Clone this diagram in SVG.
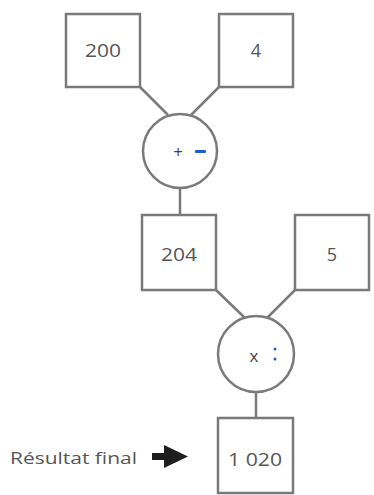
<svg xmlns="http://www.w3.org/2000/svg" width="374" height="495" viewBox="0 0 374 495">
<style>
.box{fill:#fff;stroke:#7a7a7a;stroke-width:2.5}
.op{fill:#fff;stroke:#7a7a7a;stroke-width:2.5}
.link{stroke:#7a7a7a;stroke-width:2.5;fill:none}
.t{font-family:"Open Sans","DejaVu Sans",sans-serif;font-size:18px;font-weight:500;fill:#555;text-anchor:middle}
.s{font-family:"Open Sans","DejaVu Sans",sans-serif;font-size:17px;font-weight:500;fill:#444;text-anchor:middle}
.b{fill:#1a5fd6}
.lab{font-family:"Open Sans","DejaVu Sans",sans-serif;font-size:16px;fill:#555}
</style>
<rect width="374" height="495" fill="#fff"/>
<g id="connectors">
<line class="link" x1="140" y1="87" x2="168" y2="115"/>
<line class="link" x1="219" y1="87" x2="191" y2="115"/>
<line class="link" x1="180" y1="188" x2="180" y2="215"/>
<line class="link" x1="216" y1="290" x2="245" y2="318"/>
<line class="link" x1="295" y1="290" x2="267" y2="318"/>
<line class="link" x1="256" y1="392" x2="256" y2="418"/>
</g>
<g id="n200"><rect class="box" x="66" y="14" width="74" height="73"/><text class="t" x="103" y="57" textLength="36" lengthAdjust="spacingAndGlyphs">200</text></g>
<g id="n4"><rect class="box" x="219" y="14" width="74" height="73"/><text class="t" x="256" y="57">4</text></g>
<g id="opAdd"><circle class="op" cx="180" cy="151" r="37"/><text class="s" x="178" y="158">+</text><rect class="b" x="195" y="150" width="11" height="3" rx="1"/></g>
<g id="n204"><rect class="box" x="142" y="215" width="74" height="75"/><text class="t" x="179" y="261" textLength="36" lengthAdjust="spacingAndGlyphs">204</text></g>
<g id="n5"><rect class="box" x="295" y="215" width="74" height="75"/><text class="t" x="332" y="261">5</text></g>
<g id="opMul"><circle class="op" cx="256" cy="354" r="38"/><text class="s" x="254" y="362">x</text><circle class="b" cx="275" cy="349" r="1.5"/><circle class="b" cx="275" cy="359" r="1.5"/></g>
<g id="n1020"><rect class="box" x="218" y="418" width="75" height="75"/><text class="t" x="255" y="466" textLength="54" lengthAdjust="spacingAndGlyphs">1 020</text></g>
<g id="label"><text class="lab" x="10" y="464" textLength="127" lengthAdjust="spacingAndGlyphs">Résultat final</text>
<path d="M152 453 L164 453 L164 445 L188 456.5 L164 468 L164 460 L152 460 Z" fill="#1e1e1e"/></g>
</svg>
